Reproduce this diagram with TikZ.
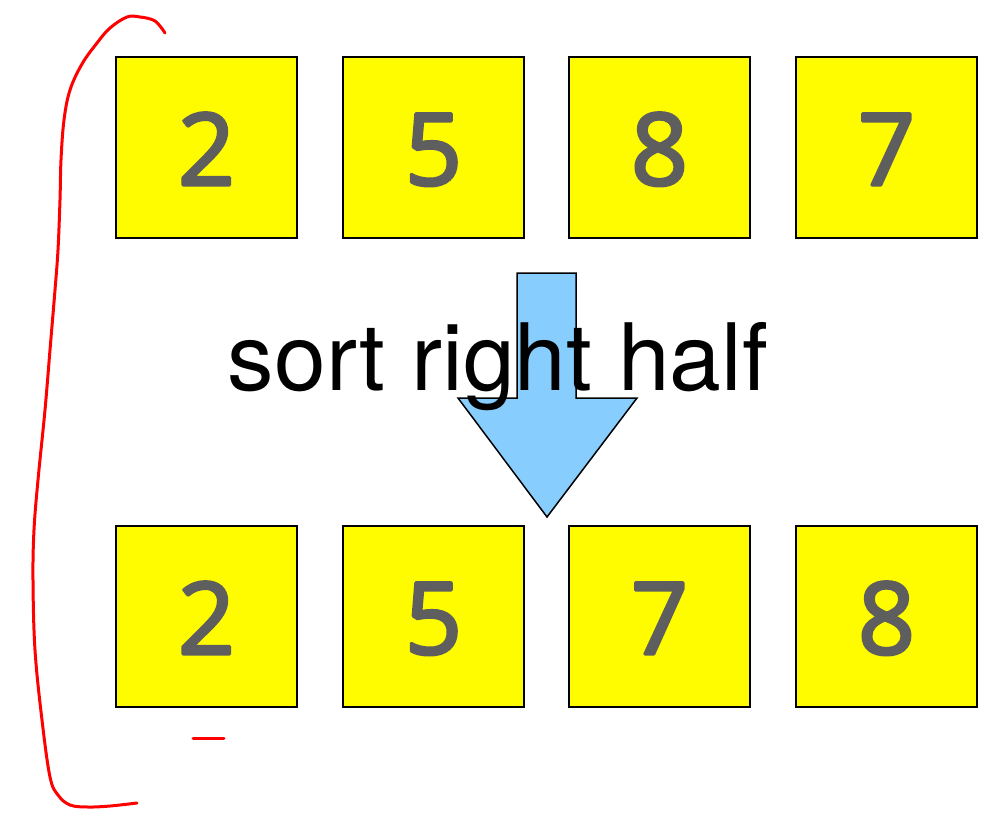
\documentclass[tikz,border=0pt]{standalone}
\usepackage{fontspec}
\setmainfont{TeX Gyre Heros}
\newfontfamily\digitfont{Open Sans}
\definecolor{boxyellow}{RGB}{255,252,0}
\definecolor{digitgray}{RGB}{94,94,94}
\definecolor{arrowblue}{RGB}{135,206,255}
\definecolor{penred}{RGB}{255,0,0}
\newcommand{\heavydigit}[1]{\special{pdf:literal direct 2 Tr 3 w 1 j}#1\special{pdf:literal direct 0 Tr 1 w}}
\begin{document}
\begin{tikzpicture}[x=1pt,y=-1pt,
  cell/.style={draw=black,line width=1.5pt,fill=boxyellow,minimum size=181pt,inner sep=0pt,outer sep=0pt},
  digit/.style={font=\digitfont\fontsize{100}{100}\selectfont,text=digitgray,inner sep=0pt,anchor=base},
  pen/.style={draw=penred,line width=3pt,line cap=round,line join=round}]
\useasboundingbox (0,0) rectangle (991,823);
\fill[white] (0,0) rectangle (991,823);
% boxes
\foreach \n/\x/\d in {a1/206.5/2,a2/433.5/5,a3/659.5/8,a4/886.5/7}{
  \node[cell] (\n) at (\x,147.5) {};
  \node[digit] (\n d) at (\x,185) {\heavydigit{\d}};
}
\foreach \n/\x/\d in {b1/206.5/2,b2/433.5/5,b3/659.5/7,b4/886.5/8}{
  \node[cell] (\n) at (\x,616.5) {};
  \node[digit] (\n d) at (\x,654) {\heavydigit{\d}};
}
% arrow
\draw[fill=arrowblue,line width=1.5pt,line join=miter]
  (517,273) -- (576,273) -- (576,398) -- (637,398) -- (547,517) -- (458,398) -- (517,398) -- cycle;
% label
\node[font=\fontsize{93}{93}\selectfont,inner sep=0pt,anchor=base] (lbl) at (498,390) {sort right half};
% red bracket
\draw[pen] plot[smooth,tension=0.6] coordinates {
  (165,33) (155,21) (140,17) (127,17) (110,28) (97,43) (82,64) (70,90) (64,120) (61,160)
  (60,200) (58,250) (55,290) (50,350) (45,410) (38,480) (34,530) (33,580) (35,650)
  (42,720) (50,777) (58,795) (70,805) (88,807) (110,806) (137,803)};
\coordinate (m1) at (193,738);
\coordinate (m2) at (224,738);
\draw[pen] (m1) -- (m2);
\end{tikzpicture}
\end{document}
